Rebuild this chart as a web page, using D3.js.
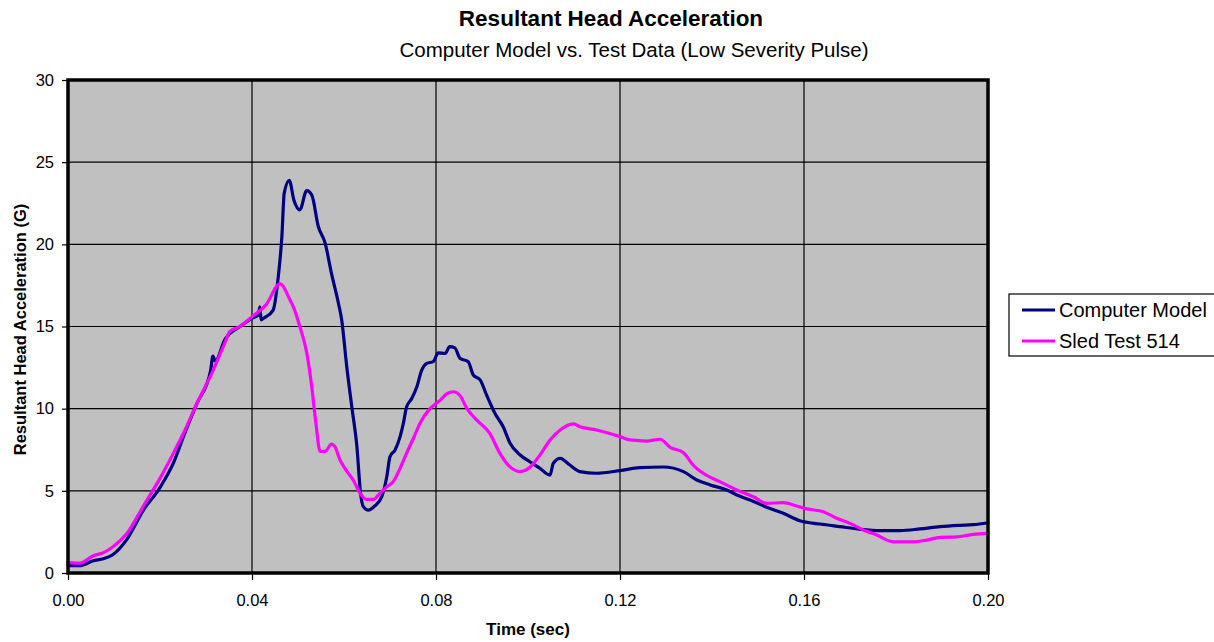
<!DOCTYPE html>
<html><head><meta charset="utf-8">
<script src="https://cdn.jsdelivr.net/npm/d3@7"></script>
<style>
body{margin:0;background:#fff;}
text{font-family:"Liberation Sans",Arial,sans-serif;fill:#000;}
</style>
</head><body>
<svg id="chart" width="1214" height="642"></svg>
<script>
// ---- data ----
const seriesNames = ["Computer Model", "Sled Test 514"];
const seriesColors = ["#000080", "#FF00FF"];
const xTicks = [0, 0.04, 0.08, 0.12, 0.16, 0.20];
const yTicks = [0, 5, 10, 15, 20, 25, 30];

const modelTime = [0.0000,0.0026,0.0055,0.0077,0.0098,0.0128,0.0164,0.0200,0.0229,0.0251,0.0280,0.0310,0.0315,0.0320,0.0341,0.0374,0.0400,0.0414,0.0417,0.0420,0.0425,0.0446,0.0457,0.0465,0.0470,0.0481,0.0491,0.0504,0.0519,0.0530,0.0544,0.0559,0.0573,0.0588,0.0595,0.0606,0.0617,0.0628,0.0636,0.0642,0.0653,0.0667,0.0682,0.0693,0.0700,0.0711,0.0722,0.0729,0.0736,0.0747,0.0758,0.0769,0.0780,0.0794,0.0805,0.0820,0.0830,0.0841,0.0852,0.0870,0.0881,0.0896,0.0910,0.0928,0.0946,0.0961,0.0983,0.1004,0.1026,0.1048,0.1055,0.1070,0.1091,0.1113,0.1149,0.1200,0.1243,0.1294,0.1338,0.1367,0.1396,0.1432,0.1454,0.1483,0.1519,0.1555,0.1591,0.1635,0.1678,0.1722,0.1765,0.1809,0.1852,0.1896,0.1939,0.1968,0.2000];
const modelValues = [0.45,0.45,0.75,0.87,1.13,2.05,3.83,5.2,6.68,8.3,10.3,12.3,13.2,12.9,14.2,15.0,15.5,15.7,16.2,15.4,15.5,16.0,18.0,20.5,23.1,23.9,22.7,22.1,23.27,23.0,21.1,20.07,18.2,16.4,15.4,12.55,10.1,7.7,4.85,4.04,3.83,4.08,4.64,5.86,7.08,7.49,8.3,9.1,10.1,10.6,11.3,12.35,12.76,12.86,13.4,13.37,13.77,13.7,13.07,12.86,12.05,11.75,10.83,9.72,8.9,7.9,7.18,6.77,6.37,5.96,6.68,6.98,6.57,6.17,6.07,6.23,6.41,6.45,6.17,5.66,5.36,5.05,4.75,4.44,4.0,3.63,3.18,2.98,2.82,2.66,2.58,2.58,2.68,2.82,2.9,2.94,3.06];

const sledTime = [0.0000,0.0026,0.0055,0.0077,0.0098,0.0128,0.0164,0.0200,0.0229,0.0251,0.0280,0.0315,0.0341,0.0352,0.0374,0.0400,0.0430,0.0461,0.0483,0.0490,0.0504,0.0519,0.0530,0.0539,0.0548,0.0559,0.0573,0.0580,0.0591,0.0606,0.0620,0.0635,0.0649,0.0664,0.0678,0.0693,0.0707,0.0722,0.0736,0.0751,0.0765,0.0787,0.0809,0.0823,0.0838,0.0852,0.0867,0.0889,0.0917,0.0939,0.0957,0.0983,0.1004,0.1026,0.1048,0.1070,0.1099,0.1113,0.1149,0.1200,0.1222,0.1258,0.1287,0.1309,0.1338,0.1359,0.1381,0.1417,0.1454,0.1490,0.1519,0.1555,0.1584,0.1606,0.1642,0.1671,0.1700,0.1729,0.1758,0.1794,0.1838,0.1867,0.1896,0.1932,0.1968,0.2000];
const sledValues = [0.63,0.6,1.05,1.24,1.6,2.4,4.08,5.76,7.28,8.5,10.3,12.3,14.0,14.7,15.0,15.6,16.3,17.6,16.6,16.2,15.0,13.4,11.3,9.1,7.4,7.4,7.85,7.7,6.9,6.2,5.66,4.85,4.48,4.48,4.85,5.25,5.56,6.37,7.28,8.2,9.1,10.0,10.5,10.9,11.03,10.8,10.02,9.3,8.5,7.28,6.57,6.17,6.43,7.18,8.1,8.7,9.07,8.9,8.7,8.3,8.1,8.03,8.14,7.65,7.32,6.57,6.07,5.56,5.05,4.64,4.24,4.28,4.08,3.9,3.73,3.33,3.02,2.62,2.31,1.9,1.9,2.0,2.17,2.2,2.35,2.41];

// ---- chart ----
const svg = d3.select("#chart");
const L = 68, R = 988, T = 80, B = 573;
const x = d3.scaleLinear().domain([0, 0.2]).range([L, R]);
const y = d3.scaleLinear().domain([0, 30]).range([B, T]);

svg.append("rect").attr("x", L).attr("y", T).attr("width", R - L).attr("height", B - T).attr("fill", "#C0C0C0");

// gridlines
svg.append("g").selectAll("line").data(yTicks.filter(d => d > 0 && d < 30)).join("line")
  .attr("x1", L).attr("x2", R).attr("y1", d => y(d)).attr("y2", d => y(d))
  .attr("stroke", "#000").attr("stroke-width", 1.2);
svg.append("g").selectAll("line").data(xTicks.filter(d => d > 0 && d < 0.2)).join("line")
  .attr("y1", T).attr("y2", B).attr("x1", d => x(d)).attr("x2", d => x(d))
  .attr("stroke", "#000").attr("stroke-width", 1.2);

// series
const series = [
  {name: seriesNames[0], color: seriesColors[0], pts: modelTime.map((t, i) => [t, modelValues[i]])},
  {name: seriesNames[1], color: seriesColors[1], pts: sledTime.map((t, i) => [t, sledValues[i]])}
];
const line = d3.line().x(d => x(d[0])).y(d => y(d[1])).curve(d3.curveMonotoneX);
svg.append("g").selectAll("path").data(series).join("path")
  .attr("d", d => line(d.pts)).attr("fill", "none")
  .attr("stroke", d => d.color).attr("stroke-width", 3.2)
  .attr("stroke-linejoin", "round").attr("stroke-linecap", "round");

// frame
svg.append("rect").attr("x", L).attr("y", T).attr("width", R - L).attr("height", B - T)
  .attr("fill", "none").attr("stroke", "#000").attr("stroke-width", 3.5);

// axes
const yAxis = svg.append("g").attr("transform", `translate(${L - 1},0)`)
  .call(d3.axisLeft(y).tickValues(yTicks).tickSize(5).tickPadding(8).tickFormat(d3.format("d")));
const xAxis = svg.append("g").attr("transform", `translate(0,${B + 1})`)
  .call(d3.axisBottom(x).tickValues(xTicks).tickSize(6).tickPadding(14).tickFormat(d3.format(".2f")));
[yAxis, xAxis].forEach(g => {
  g.select(".domain").remove();
  g.selectAll(".tick line").attr("stroke", "#000").attr("stroke-width", 1.2);
  g.selectAll("text").attr("font-size", 16.5).attr("font-family", '"Liberation Sans",Arial,sans-serif').attr("fill", "#000");
});

// titles
svg.append("text").attr("x", 611).attr("y", 26).attr("text-anchor", "middle")
  .attr("font-size", 22.5).attr("font-weight", "bold").text("Resultant Head Acceleration");
svg.append("text").attr("x", 634).attr("y", 57).attr("text-anchor", "middle")
  .attr("font-size", 20.5).text("Computer Model vs. Test Data (Low Severity Pulse)");
svg.append("text").attr("x", (L + R) / 2).attr("y", 635).attr("text-anchor", "middle")
  .attr("font-size", 17).attr("font-weight", "bold").text("Time (sec)");
svg.append("text").attr("transform", `translate(26,${(T + B) / 2 + 3}) rotate(-90)`).attr("text-anchor", "middle")
  .attr("font-size", 16.5).attr("font-weight", "bold").text("Resultant Head Acceleration (G)");

// legend
const lg = svg.append("g");
lg.append("rect").attr("x", 1009).attr("y", 294).attr("width", 220).attr("height", 62)
  .attr("fill", "#fff").attr("stroke", "#000").attr("stroke-width", 1.2);
const items = lg.selectAll("g").data(series).join("g")
  .attr("transform", (d, i) => `translate(0,${310 + i * 31})`);
items.append("line").attr("x1", 1022).attr("x2", 1055).attr("y1", 0).attr("y2", 0)
  .attr("stroke", d => d.color).attr("stroke-width", 3.2);
items.append("text").attr("x", 1059).attr("y", 0).attr("dy", "0.35em")
  .attr("font-size", 20).text(d => d.name);
</script>
</body></html>
